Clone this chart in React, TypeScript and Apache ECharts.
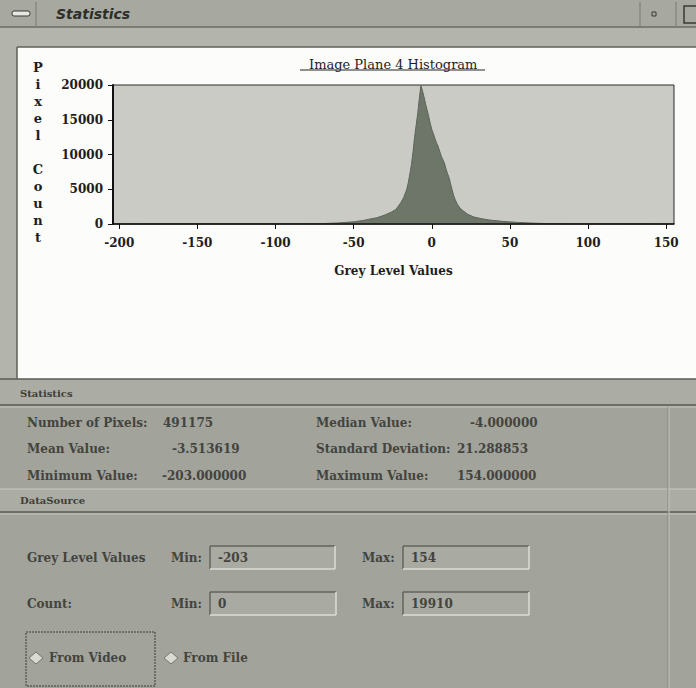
import React, { useEffect, useRef } from "react";
import * as echarts from "echarts";

// Histogram (grey level -> pixel count)
const greyLevels = [-203, -80, -70, -60, -50, -44, -40, -35, -30, -26, -23, -20, -18, -16, -15, -14, -13, -12, -11, -10, -9, -8, -7, -6, -5, -4, -3, -2, -1, 0, 1, 2, 3, 4, 5, 6, 7, 8, 9, 10, 11, 12, 13, 14, 15, 16, 18, 20, 23, 27, 32, 37, 45, 55, 65, 77, 90, 154];
const pixelCounts = [0, 20, 60, 150, 320, 500, 700, 900, 1300, 1700, 2100, 3000, 3800, 5000, 6000, 7200, 8600, 10400, 12500, 14200, 15900, 18000, 19910, 19200, 18300, 17300, 16400, 15500, 14500, 13600, 13000, 12300, 11700, 11200, 10500, 9800, 9300, 8800, 8000, 7300, 6700, 5800, 4900, 4100, 3500, 3000, 2300, 1900, 1400, 1000, 750, 570, 380, 230, 120, 40, 10, 0];

const xTickValues = [-200, -150, -100, -50, 0, 50, 100, 150];

const statsLeftLabels = ["Number of Pixels:", "Mean Value:", "Minimum Value:"];
const statsLeftValues = ["491175", "-3.513619", "-203.000000"];
const statsRightLabels = ["Median Value:", "Standard Deviation:", "Maximum Value:"];
const statsRightValues = ["-4.000000", "21.288853", "154.000000"];

const greyMin = "-203";
const greyMax = "154";
const countMin = "0";
const countMax = "19910";

const SERIF = '"DejaVu Serif", serif';
const PANEL_TEXT = "#43443e";

function txt(text: string, x: number, y: number, opts: any = {}) {
  return {
    type: "text",
    x,
    y,
    z: 20,
    style: {
      text,
      fill: opts.fill || PANEL_TEXT,
      font: opts.font || `bold 12px ${SERIF}`,
      textAlign: opts.align || "left",
      textVerticalAlign: "middle",
    },
  };
}

function line(x1: number, y1: number, x2: number, y2: number, stroke: string, w = 1, z = 5) {
  return { type: "line", z, shape: { x1, y1, x2, y2 }, style: { stroke, lineWidth: w } };
}

function field(x: number, y: number, w: number, h: number) {
  return [
    { type: "rect", z: 4, shape: { x, y, width: w, height: h }, style: { fill: "#a9aaa2" } },
    line(x, y, x + w, y, "#62635c", 1.5),
    line(x, y, x, y + h, "#62635c", 1.5),
    line(x, y + h, x + w, y + h, "#dcddd5", 1.5),
    line(x + w, y, x + w, y + h, "#dcddd5", 1.5),
  ];
}

function diamond(cx: number, cy: number) {
  return {
    type: "polygon",
    z: 6,
    shape: { points: [[cx, cy - 6], [cx + 7, cy], [cx, cy + 6], [cx - 7, cy]] },
    style: { fill: "#d9dad2", stroke: "#74756e", lineWidth: 1 },
  };
}

export default function App() {
  const ref = useRef<HTMLDivElement>(null);

  useEffect(() => {
    if (!ref.current) return;
    const chart = echarts.init(ref.current, undefined, { renderer: "svg" });

    const rowsY = [423, 449, 476];
    const leftValX = [163, 172, 162];
    const rightValX = [470, 457, 457];

    const graphic: any[] = [
      // window frame
      { type: "rect", z: 0, shape: { x: 0, y: 0, width: 696, height: 688 }, style: { fill: "#b3b4ac" } },
      // title bar
      { type: "rect", z: 1, shape: { x: 0, y: 0, width: 696, height: 27 }, style: { fill: "#a7a89f" } },
      line(0, 27, 696, 27, "#6c6d66", 1.5),
      line(36, 2, 36, 26, "#7a7b74"),
      line(640, 2, 640, 26, "#7a7b74"),
      line(676, 2, 676, 26, "#7a7b74"),
      { type: "rect", z: 6, shape: { x: 12, y: 11, width: 18, height: 5, r: 2 }, style: { fill: "#e8e8e2", stroke: "#3a3b35", lineWidth: 1 } },
      { type: "rect", z: 6, shape: { x: 652, y: 12, width: 4, height: 4 }, style: { fill: "none", stroke: "#3a3b35", lineWidth: 1 } },
      { type: "rect", z: 6, shape: { x: 684, y: 6, width: 14, height: 17 }, style: { fill: "none", stroke: "#3a3b35", lineWidth: 1.5 } },
      txt("Statistics", 56, 14, { font: `italic bold 14px "DejaVu Sans", sans-serif`, fill: "#2d2e29" }),
      // white plot panel
      { type: "rect", z: 1, shape: { x: 17, y: 47, width: 679, height: 332 }, style: { fill: "#fcfcfa" } },
      line(17, 47, 696, 47, "#5f6059", 1.5),
      line(17, 47, 17, 379, "#5f6059", 1.5),
      // title underline
      line(300, 70, 485, 70, "#222222", 1),
      // y axis name letters
      {
        type: "text",
        x: 38,
        y: 59,
        z: 20,
        style: {
          text: "P\ni\nx\ne\nl\n\nC\no\nu\nn\nt",
          fill: "#1e1e1e",
          font: `bold 13px ${SERIF}`,
          lineHeight: 17,
          textAlign: "center",
          textVerticalAlign: "top",
        },
      },
      // lower panel
      { type: "rect", z: 1, shape: { x: 0, y: 379, width: 696, height: 309 }, style: { fill: "#a2a39b" } },
      line(0, 379, 696, 379, "#5c5d56", 1.5),
      { type: "rect", z: 2, shape: { x: 0, y: 380, width: 696, height: 25 }, style: { fill: "#abaca4" } },
      line(0, 405, 696, 405, "#5a5b54", 1.5),
      line(0, 407, 696, 407, "#c6c7bf", 1),
      txt("Statistics", 20, 393, { font: `bold 10px ${SERIF}`, fill: "#3e3f39" }),
      { type: "rect", z: 2, shape: { x: 0, y: 489, width: 696, height: 23 }, style: { fill: "#abaca4" } },
      line(0, 489, 696, 489, "#c6c7bf", 1),
      line(0, 512, 696, 512, "#5a5b54", 1.5),
      line(0, 514, 696, 514, "#c6c7bf", 1),
      txt("DataSource", 20, 500, { font: `bold 10px ${SERIF}`, fill: "#3e3f39" }),
      line(668, 407, 668, 688, "#85867f", 1),
      line(669, 407, 669, 688, "#c4c5bd", 1),
      // DataSource rows
      txt("Grey Level Values", 27, 558),
      txt("Min:", 171, 558),
      ...field(210, 546, 125, 23),
      txt(greyMin, 218, 558),
      txt("Max:", 362, 558),
      ...field(403, 546, 126, 23),
      txt(greyMax, 411, 558),
      txt("Count:", 27, 604),
      txt("Min:", 171, 604),
      ...field(210, 592, 126, 23),
      txt(countMin, 218, 604),
      txt("Max:", 362, 604),
      ...field(403, 592, 126, 23),
      txt(countMax, 411, 604),
      // radio buttons
      { type: "rect", z: 5, shape: { x: 26, y: 632, width: 129, height: 54 }, style: { fill: "none", stroke: "#3c3d37", lineWidth: 1, lineDash: [2, 1] } },
      diamond(36, 658),
      txt("From Video", 49, 658),
      diamond(171, 658),
      txt("From File", 183, 658),
    ];

    statsLeftLabels.forEach((l, i) => {
      graphic.push(txt(l, 27, rowsY[i]));
      graphic.push(txt(statsLeftValues[i], leftValX[i], rowsY[i]));
    });
    statsRightLabels.forEach((l, i) => {
      graphic.push(txt(l, 316, rowsY[i]));
      graphic.push(txt(statsRightValues[i], rightValX[i], rowsY[i]));
    });

    chart.setOption({
      animation: false,
      title: {
        text: "Image Plane 4 Histogram",
        left: 304,
        top: 53,
        z: 20,
        textStyle: { fontFamily: SERIF, fontSize: 13, fontWeight: "normal", color: "#1e1e1e" },
      },
      grid: {
        left: 113,
        top: 85,
        width: 561,
        height: 139,
        show: true,
        backgroundColor: "#cacbc5",
        borderColor: "#2a2a2a",
        borderWidth: 1,
        z: 3,
      },
      xAxis: {
        type: "value",
        z: 20,
        min: -204,
        max: 155,
        name: "Grey Level Values",
        nameLocation: "middle",
        nameGap: 41,
        nameTextStyle: { fontFamily: SERIF, fontSize: 12, fontWeight: "bold", color: "#1e1e1e" },
        axisLine: { show: true, onZero: false, lineStyle: { color: "#111", width: 1.5 } },
        axisTick: { show: true, length: 5, customValues: xTickValues, lineStyle: { color: "#111" } },
        axisLabel: {
          customValues: xTickValues,
          margin: 13,
          fontFamily: SERIF,
          fontSize: 12,
          fontWeight: "bold",
          color: "#1e1e1e",
          formatter: (v: number) => String(v),
        },
        splitLine: { show: false },
      },
      yAxis: {
        type: "value",
        z: 20,
        min: 0,
        max: 20000,
        interval: 5000,
        axisLine: { show: true, onZero: false, lineStyle: { color: "#111", width: 2 } },
        axisTick: { show: true, length: 5, lineStyle: { color: "#111" } },
        axisLabel: {
          margin: 10,
          fontFamily: SERIF,
          fontSize: 12,
          fontWeight: "bold",
          color: "#1e1e1e",
          formatter: (v: number) => String(v),
        },
        splitLine: { show: false },
      },
      graphic,
      series: [
        {
          type: "line",
          data: greyLevels.map((g, i) => [g, pixelCounts[i]]),
          showSymbol: false,
          symbol: "none",
          lineStyle: { color: "#5d6459", width: 1 },
          areaStyle: { color: "#6e7569", opacity: 1 },
          z: 4,
        },
      ],
    });

    return () => chart.dispose();
  }, []);

  return (
    <div
      ref={ref}
      style={{ position: "absolute", left: 0, top: 0, width: 696, height: 688 }}
    />
  );
}
